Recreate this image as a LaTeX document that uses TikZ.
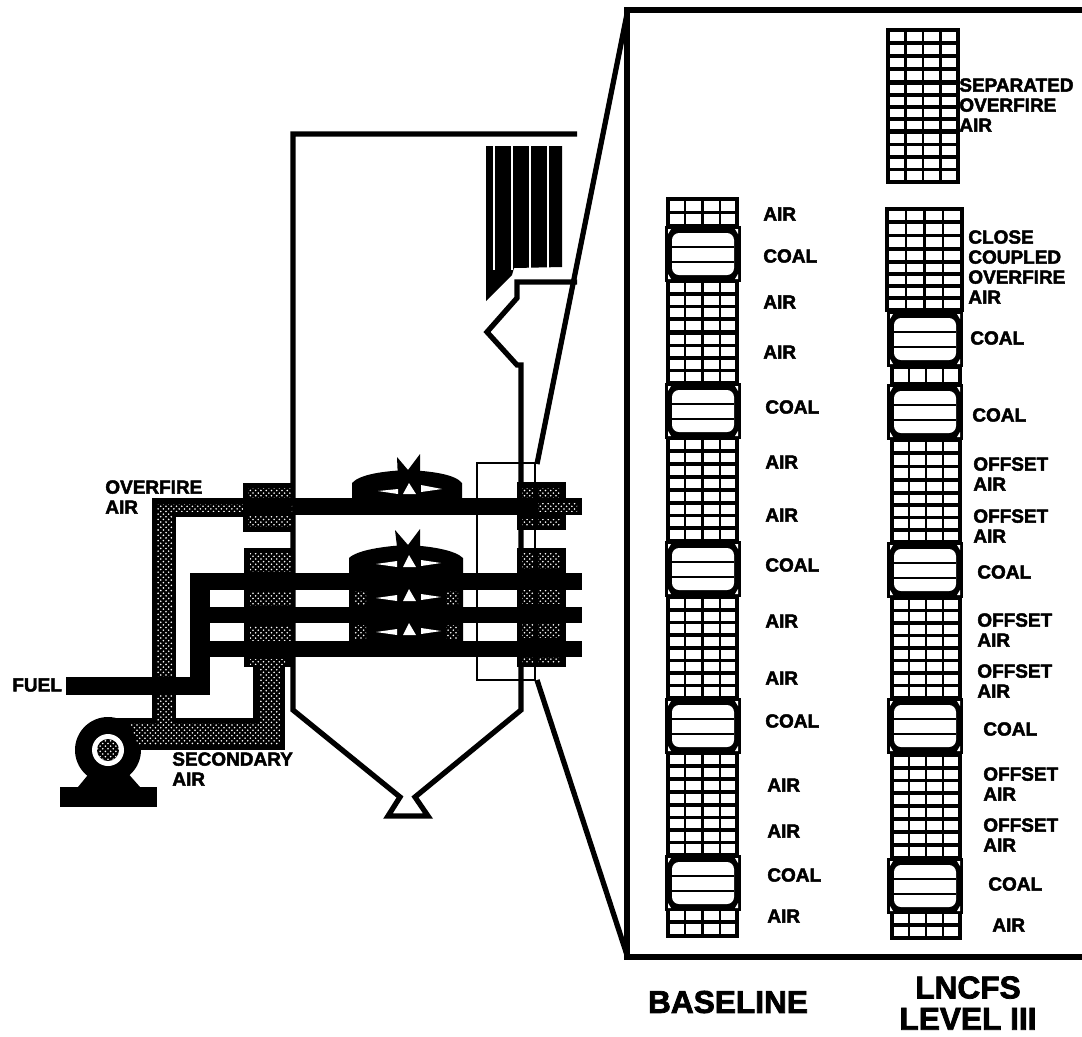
\documentclass[tikz,border=0pt]{standalone}
\usepackage{fontspec}
\setmainfont{Liberation Sans}[BoldFeatures={FakeBold=2.4}]
\usetikzlibrary{patterns}
\tikzset{
  lbl/.style={anchor=west,inner sep=0pt,align=left,font=\fontsize{10.8}{11.4}\selectfont\bfseries},
  bigLbl/.style={inner sep=0pt,align=center,font=\fontsize{18}{17.8}\selectfont\bfseries},
  hatch/.style={preaction={fill=black},pattern=crosshatch dots,pattern color=white},
  wall/.style={line width=3pt},
  thinwall/.style={line width=1.5pt},
  gridH/.style={line width=2.2pt},
  gridV/.style={line width=1.4pt}
}
\begin{document}
\begin{tikzpicture}[x=0.02cm,y=-0.02cm]
\useasboundingbox (0,0) rectangle (1082,1036);
% detail frame
\draw[wall] (1082,10) -- (627,10) -- (627,957) -- (1082,957);
\draw[wall] (627,14) -- (537,464);
\draw[wall] (537,680) -- (627,955);
\draw[thinwall] (535,463) -- (477,463) -- (477,680) -- (535,680) -- cycle;
% furnace
\draw[wall] (577,134) -- (293,134) -- (293,710) -- (400,797) -- (388,816) -- (428,816) -- (415,797) -- (521,710) -- (521,365) -- (517,365) -- (487,332) -- (517,298) -- (517,282) -- (577,282);
% tube banks
\fill (486,146) -- (562,146) -- (562,267) -- (514,268) -- (512,275) -- (486,301) -- cycle;
\foreach \x in {494,512,530,548}
  \draw[white,line width=0.8pt] (\x,146) -- (\x,270);
% overfire air duct
\fill (152,498) rectangle (293,517);
\fill (152,498) rectangle (176,730);
\fill[hatch] (157,504) rectangle (292,511);
\fill[hatch] (157,504) rectangle (172,726);
% windboxes
\fill (243,483) rectangle (291,532);
\fill[hatch] (248,488) rectangle (291,497);
\fill[hatch] (248,516) rectangle (291,526);
\fill (244,548) rectangle (291,667);
\fill[hatch] (250,553) rectangle (291,571);
\fill[hatch] (250,592) rectangle (291,605);
\fill[hatch] (250,626) rectangle (291,640);
\fill[hatch] (250,659) rectangle (285,664);
\fill (517,482) rectangle (566,530);
\fill (517,548) rectangle (566,667);
\foreach \ya/\yb in {488/497,503/511,519/525,553/568,590/603,622/637,657/662}{
  \fill[hatch] (522,\ya) rectangle (533,\yb);
  \fill[hatch] (538,\ya) rectangle (560,\yb);
}
% burner lines
\fill (293,498) rectangle (582,515);
\fill[hatch] (538,503) rectangle (577,511);
\foreach \ya/\yb in {573/590,607/623,641/657}
  \fill (190,\ya) rectangle (582,\yb);
\fill (190,573) rectangle (210,695);
\fill (66,677) rectangle (210,695);
% flames
\fill (352,500) -- (352,483) .. controls (360,474) and (385,471) .. (407,470) .. controls (430,471) and (455,474) .. (462,483) -- (462,500) -- cycle;
\fill (397,457) -- (408,470) -- (420,454) -- (420,480) -- (398,480) -- cycle;
\fill (349,645) -- (349,558) .. controls (357,550) and (385,546) .. (407,545) .. controls (430,546) and (455,550) .. (463,558) -- (463,645) -- cycle;
\fill (395,530) -- (408,545) -- (420,529) -- (420,555) -- (398,555) -- cycle;
\foreach \yy in {0,34,68}{
  \fill[white] (409,555+\yy) -- (403,567+\yy) -- (416,567+\yy) -- cycle;
  \fill[white] (376,564+\yy) -- (397,561+\yy) -- (397,567+\yy) -- cycle;
  \fill[white] (441,563+\yy) -- (421,560+\yy) -- (421,566+\yy) -- cycle;
}
\fill[white] (409,483) -- (403,494) -- (416,494) -- cycle;
\fill[white] (378,491) -- (398,489) -- (398,494) -- cycle;
\fill[white] (442,489) -- (421,485) -- (421,492) -- cycle;
\foreach \ya/\yb in {591/604,625/638}{
  \fill[hatch] (354,\ya) rectangle (366,\yb);
  \fill[hatch] (446,\ya) rectangle (458,\yb);
}
% fan and secondary air
\fill (108,718) rectangle (253,750);
\fill (253,665) rectangle (285,750);
\fill (152,695) rectangle (176,725);
\fill[hatch] (157,695) rectangle (172,726);
\fill (108,750) circle (33);
\fill (78,787) -- (92,770) -- (125,770) -- (140,787) -- cycle;
\fill (60,787) rectangle (157,807);
\fill[hatch] (130,723) -- (260,723) -- (260,662) -- (280,662) -- (280,745) -- (138,745) -- cycle;
\fill[white] (108,750) circle (16);
\fill[hatch] (108,750) circle (11);
% air registers
\foreach \xa/\xb/\ya/\yb/\n in {
  668/737/199/226/2, 668/737/281/332/4, 668/737/333/383/4, 668/737/438/490/4,
  668/737/490/541/4, 668/737/597/648/4, 668/737/648/698/4, 668/737/753/805/4,
  668/737/805/855/4, 668/737/908/936/2,
  888/958/30/82/4, 888/958/83/131/4, 888/958/132/182/4, 887/962/209/262/4,
  887/962/262/310/4, 892/960/367/384/1, 892/960/440/493/4, 892/960/493/542/4,
  892/960/598/648/4, 892/960/648/698/4, 892/960/755/806/4, 892/960/806/858/4,
  892/960/912/938/2}{
  \pgfmathsetmacro\dy{(\yb-\ya)/\n}
  \foreach \i in {1,...,3}
    \draw[gridV] ({\xa+\i*(\xb-\xa)/4},\ya) -- ({\xa+\i*(\xb-\xa)/4},\yb);
  \foreach \k in {1,...,\n}
    \draw[gridH] (\xa,{\ya+\k*\dy}) -- (\xb,{\ya+\k*\dy});
  \draw[gridH] (\xa,\ya) rectangle (\xb,\yb);
}
% coal nozzles
\foreach \xa/\ya in {665/226,665/383,665/541,665/698,665/855,887/311,887/384,887/542,887/698,887/858}{
  \fill (\xa,\ya) rectangle (\xa+76,\ya+56);
  \fill[white,rounded corners=4pt] (\xa+7,\ya+7) rectangle (\xa+69,\ya+49);
  \draw[line width=1pt] (\xa+7,\ya+21) -- (\xa+69,\ya+21);
  \draw[line width=1pt] (\xa+7,\ya+36) -- (\xa+69,\ya+36);
  % corner specks
  \foreach \px/\py/\sx/\sy in {3/3/1/1,73/3/-1/1,3/53/1/-1,73/53/-1/-1}
    \fill[white] (\xa+\px,\ya+\py) -- +(3*\sx,0) -- +(0,5*\sy) -- cycle;
}
% labels
\node[lbl] (ofa) at (105,497) {OVERFIRE\\AIR};
\node[lbl] (fuel) at (12,685) {FUEL};
\node[lbl] (sec) at (172,769) {SECONDARY\\AIR};
\foreach \nm/\x/\y/\txt in {
  a1/763/214/AIR, a2/763/256/COAL, a3/763/302/AIR, a4/763/352/AIR, a5/765/407/COAL,
  a6/765/462/AIR, a7/765/515/AIR, a8/765/565/COAL, a9/765/621/AIR, a10/765/678/AIR,
  a11/765/721/COAL, a12/767/785/AIR, a13/767/831/AIR, a14/767/875/COAL, a15/767/916/AIR,
  b1/970/338/COAL, b2/972/415/COAL, b3/977/572/COAL, b4/983/729/COAL, b5/988/884/COAL, b6/992/925/AIR}
  \node[lbl] (\nm) at (\x,\y) {\txt};
\foreach \nm/\x/\y in {c1/973/474,c2/973/526,c3/977/630,c4/977/681,c5/983/784,c6/983/835}
  \node[lbl] (\nm) at (\x,\y) {OFFSET\\AIR};
\node[lbl] (sofa) at (959,105) {SEPARATED\\OVERFIRE\\AIR};
\node[lbl] (ccofa) at (968,267) {CLOSE\\COUPLED\\OVERFIRE\\AIR};
\node[bigLbl] (base) at (728,1002) {BASELINE};
\node[bigLbl] (lncfs) at (968,1003) {LNCFS\\LEVEL III};
\end{tikzpicture}
\end{document}
